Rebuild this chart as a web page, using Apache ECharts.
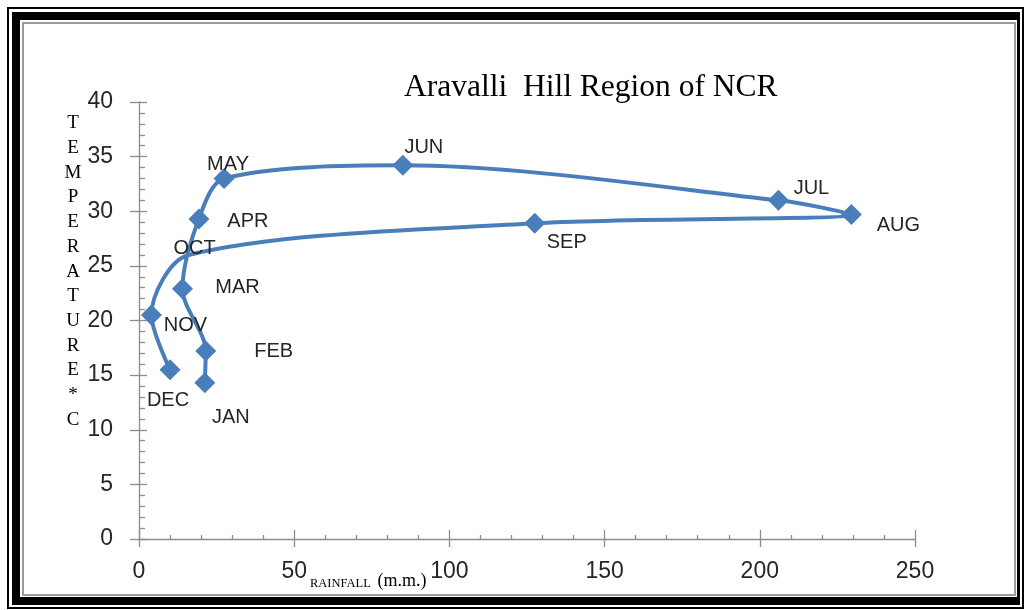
<!DOCTYPE html>
<html>
<head>
<meta charset="utf-8">
<script src="https://cdn.jsdelivr.net/npm/echarts@6/dist/echarts.min.js"></script>
<style>
html, body { margin: 0; padding: 0; background: #fff; }
#chart { width: 1025px; height: 610px; }
</style>
</head>
<body>
<div id="chart"></div>
<script>
// data
const months = ['JAN', 'FEB', 'MAR', 'APR', 'MAY', 'JUN', 'JUL', 'AUG', 'SEP', 'OCT', 'NOV', 'DEC'];
const rainfall = [21.2, 21.5, 14, 19.3, 27.4, 85, 206, 229.5, 127.5, 16, 4, 10];
const temperature = [14.3, 17.2, 22.9, 29.3, 33, 34.2, 31, 29.7, 28.9, 26, 20.5, 15.5];
const hiddenMarker = ['OCT'];

// label placement, pixels from the marker centre
const labelOffsets = [[26, 35], [68, 0], [55, -1], [49, 3], [4, -14], [21, -18],
  [33, -12], [47, 11], [32, 19], [6, -6], [34, 10], [-2, 31]];

const chart = echarts.init(document.getElementById('chart'));

const axisColor = '#8c8c8c';
const tickFont = {fontFamily: 'Liberation Sans', fontSize: 23, color: '#262626'};

const points = months.map((m, i) => ({
  name: m,
  value: [rainfall[i], temperature[i]],
  symbolSize: hiddenMarker.includes(m) ? 0.1 : 21,
  label: {offset: labelOffsets[i]}
}));

const option = {
  backgroundColor: '#fff',
  animation: false,
  title: {
    text: 'Aravalli  Hill Region of NCR',
    left: 399, top: 67,
    textStyle: {fontFamily: 'Liberation Serif', fontSize: 31.5, fontWeight: 'normal', color: '#000'}
  },
  grid: {left: 139, right: 110, top: 102, bottom: 71},
  xAxis: [{
    type: 'value', min: 0, max: 250, interval: 50,
    axisLine: {onZero: false, lineStyle: {color: axisColor, width: 1.3}},
    axisTick: {inside: false, length: 8, lineStyle: {color: axisColor, width: 1.3}},
    axisLabel: Object.assign({margin: 21}, tickFont),
    splitLine: {show: false}
  }, {
    type: 'value', min: 0, max: 250, interval: 50, position: 'bottom',
    axisLine: {show: false},
    axisTick: {inside: true, length: 9, lineStyle: {color: axisColor, width: 1.3}},
    minorTick: {show: true, splitNumber: 5, length: 4, lineStyle: {color: axisColor, width: 1.3}},
    axisLabel: {show: false},
    splitLine: {show: false}
  }],
  yAxis: [{
    type: 'value', min: 0, max: 40, interval: 5,
    axisLine: {show: true, onZero: false, lineStyle: {color: axisColor, width: 1.3}},
    axisTick: {show: true, inside: false, length: 9, lineStyle: {color: axisColor, width: 1.3}},
    axisLabel: Object.assign({margin: 26}, tickFont),
    splitLine: {show: false}
  }, {
    type: 'value', min: 0, max: 40, interval: 5, position: 'left',
    axisLine: {show: false},
    axisTick: {show: true, inside: true, length: 8, lineStyle: {color: axisColor, width: 1.3}},
    minorTick: {show: true, splitNumber: 5, length: 6, lineStyle: {color: axisColor, width: 1.3}},
    axisLabel: {show: false},
    splitLine: {show: false}
  }],
  graphic: [
    // double black frame with grey inner edge
    {type: 'rect', z: -10, shape: {x: 7, y: 7, width: 1017, height: 602}, style: {fill: '#000'}},
    {type: 'rect', z: -10, shape: {x: 9, y: 9, width: 1013, height: 598}, style: {fill: '#fff'}},
    {type: 'rect', z: -10, shape: {x: 12, y: 12, width: 1008, height: 593}, style: {fill: '#000'}},
    {type: 'rect', z: -10, shape: {x: 20, y: 20, width: 997, height: 577}, style: {fill: '#fff'}},
    {type: 'rect', z: -10, shape: {x: 22, y: 22, width: 994, height: 574}, style: {fill: '#9a9a9a'}},
    {type: 'rect', z: -10, shape: {x: 24, y: 24, width: 990, height: 570}, style: {fill: '#fff'}},
    {
      type: 'text', z: 10, x: 73, y: 111,
      style: {
        text: 'TEMPERATURE*C'.split('').join('\n'),
        fontFamily: 'Liberation Serif', fontSize: 19, lineHeight: 24.7,
        fill: '#000', align: 'center'
      }
    },
    {
      type: 'text', z: 10, x: 310, y: 590,
      style: {
        text: '{a|RAINFALL}  {b|(m.m.)}',
        verticalAlign: 'bottom',
        rich: {
          a: {fontFamily: 'Liberation Serif', fontSize: 12.5, fill: '#000', verticalAlign: 'bottom'},
          b: {fontFamily: 'Liberation Serif', fontSize: 18, fill: '#000', verticalAlign: 'bottom'}
        }
      }
    }
  ],
  series: [{
    type: 'line',
    xAxisIndex: 0, yAxisIndex: 0,
    smooth: 0.3,
    data: points,
    symbol: 'diamond',
    itemStyle: {color: '#4a7ebb'},
    lineStyle: {color: '#4a7ebb', width: 4},
    label: {
      show: true, position: 'inside',
      formatter: p => p.name,
      fontFamily: 'Liberation Sans', fontSize: 20, color: '#262626'
    }
  }]
};

chart.setOption(option);
</script>
</body>
</html>
